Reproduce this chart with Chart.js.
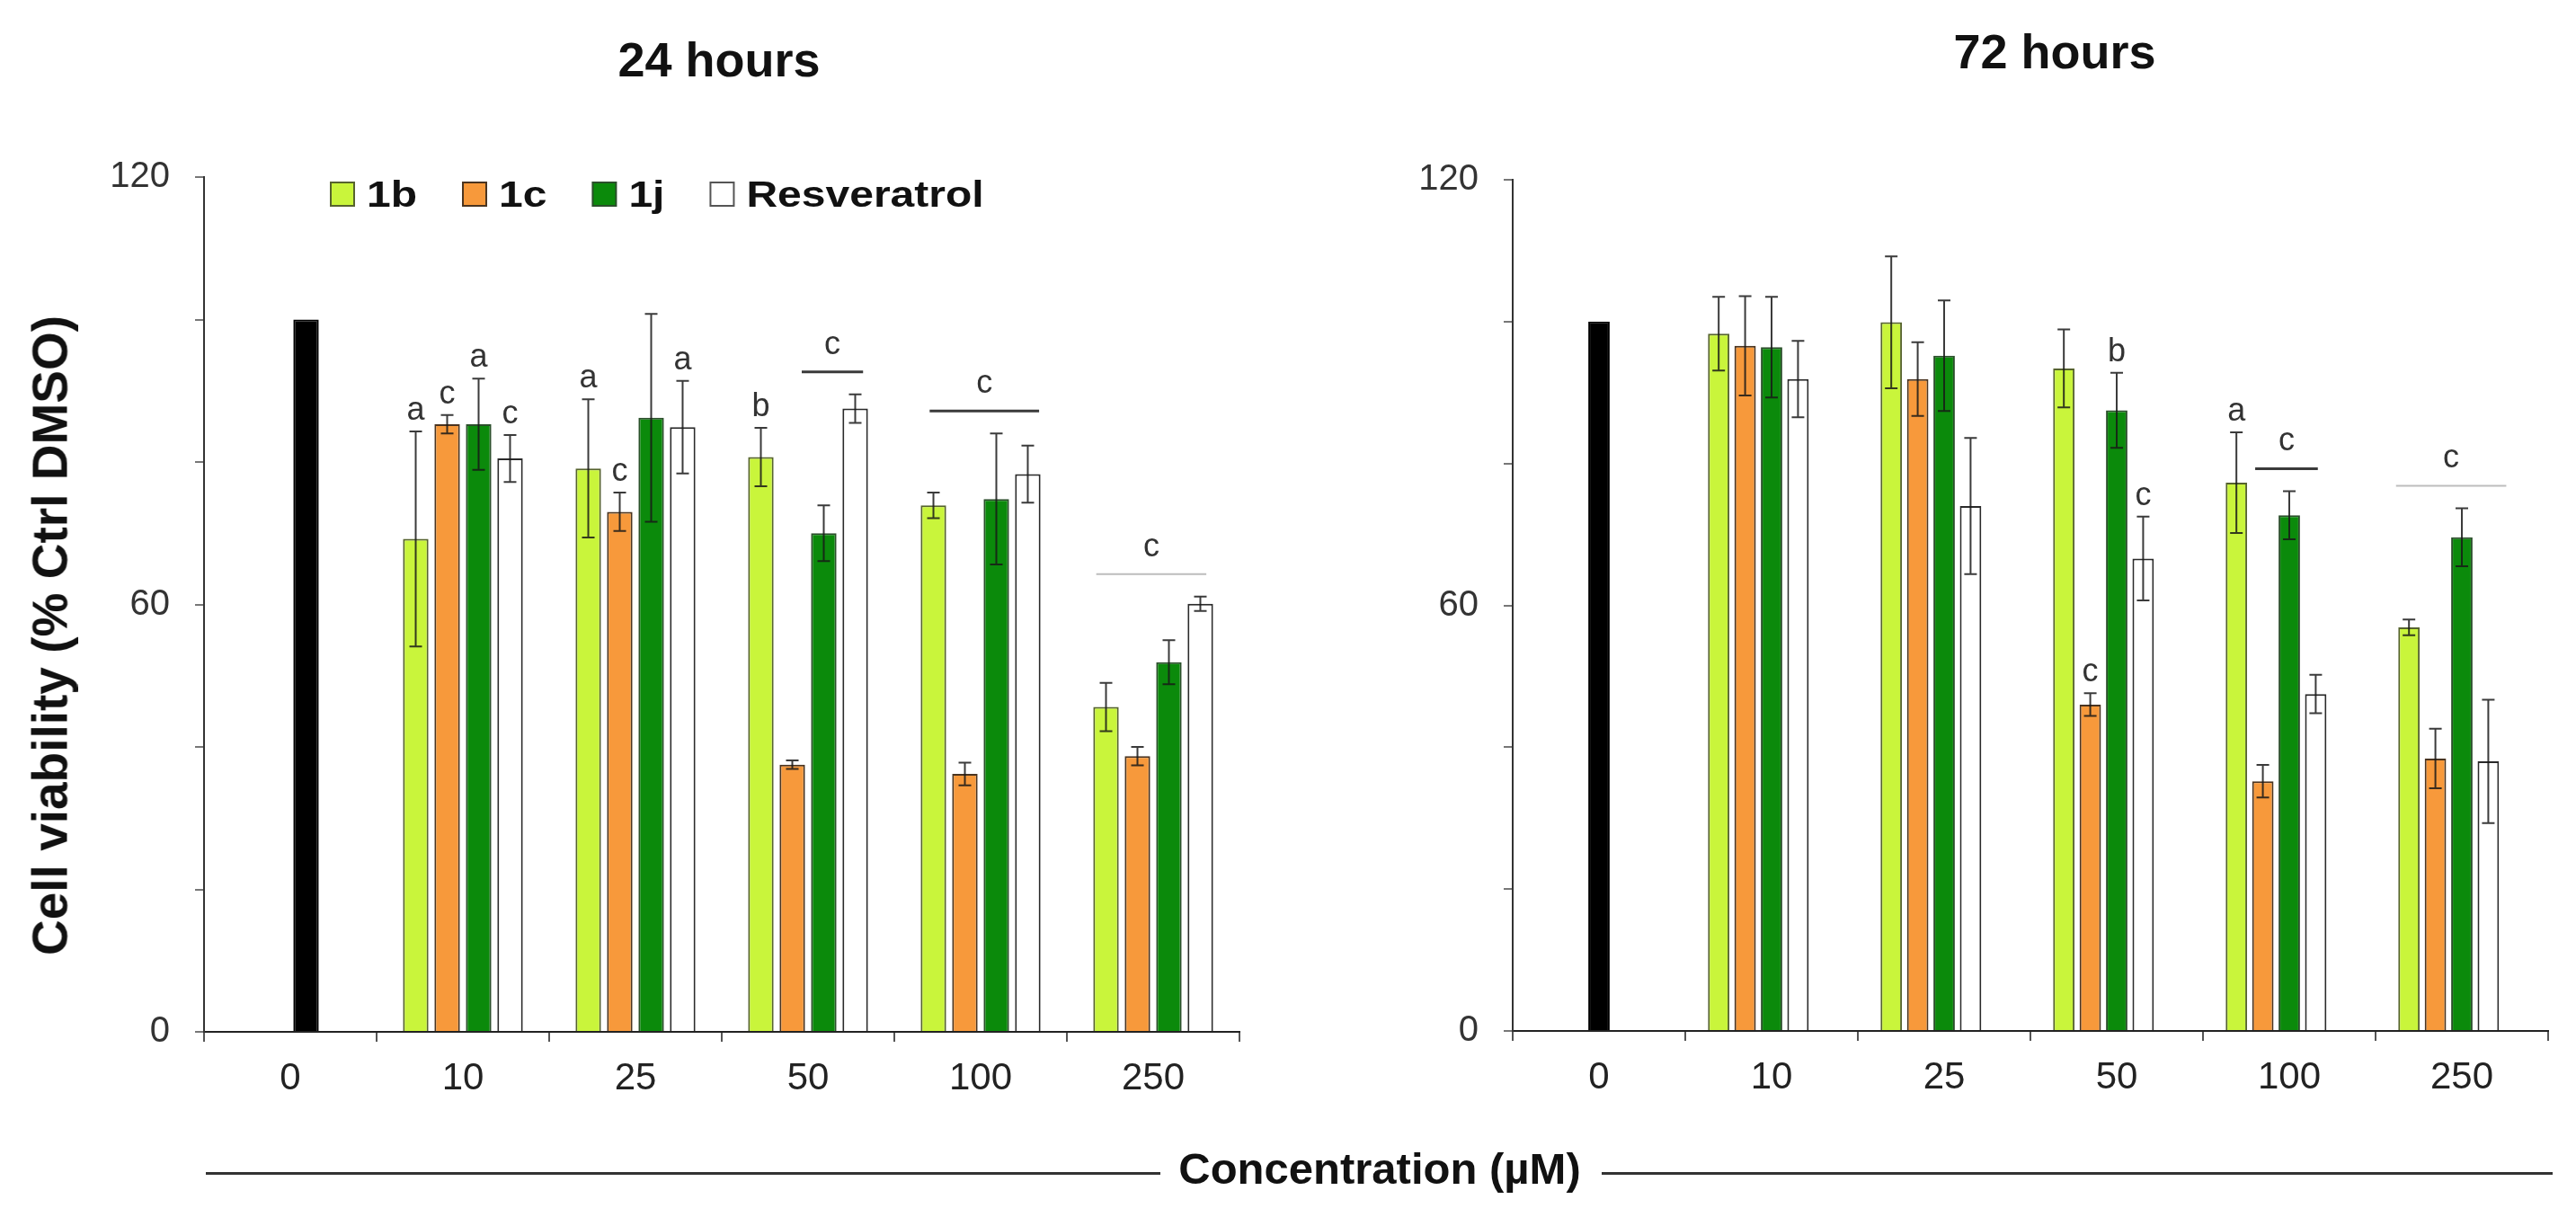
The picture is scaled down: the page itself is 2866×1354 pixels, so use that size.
<!DOCTYPE html>
<html>
<head>
<meta charset="utf-8">
<title>Cell viability</title>
<script src="https://cdn.jsdelivr.net/npm/chart.js@4.4.1/dist/chart.umd.min.js"></script>
<style>
  html, body { margin: 0; padding: 0; background: #fff; }
  body { width: 2866px; height: 1354px; position: relative; overflow: hidden; font-family: "Liberation Sans", Arial, sans-serif; }
  .panel { position: absolute; top: 0; height: 1354px; }
  .txt { position: absolute; white-space: nowrap; line-height: 1; color: #111; font-weight: bold; }
  .rule { position: absolute; height: 3px; background: #333; }
</style>
</head>
<body>
<div class="panel" style="left:0;width:1430px"><canvas id="chart24"></canvas></div>
<div class="panel" style="left:1430px;width:1436px"><canvas id="chart72"></canvas></div>

<div class="txt" style="left:800px;top:39px;font-size:54px;transform:translateX(-50%)">24 hours</div>
<div class="txt" style="left:2286px;top:30px;font-size:54px;transform:translateX(-50%)">72 hours</div>
<div class="txt" style="left:56px;top:707px;font-size:55px;transform:translate(-50%,-50%) rotate(-90deg)">Cell viability (% Ctrl DMSO)</div>
<div class="rule" style="left:229px;width:1062px;top:1304px"></div>
<div class="txt" style="left:1535px;top:1276px;font-size:49px;transform:translateX(-50%)">Concentration (µM)</div>
<div class="rule" style="left:1782px;width:1058px;top:1304px"></div>

<script>
// Données
const concentrations = ['0', '10', '25', '50', '100', '250'];
const seriesNames = ['1b', '1c', '1j', 'Resveratrol'];
const controlValue = 100; // Ctrl DMSO

// 24 heures (10, 25, 50, 100, 250 µM)
const h24_1b = [69.2, 79.1, 80.7, 73.9, 45.6];
const h24_1b_err = [15.1, 9.7, 4.1, 1.8, 3.4];
const h24_1c = [85.3, 73.0, 37.5, 36.2, 38.7];
const h24_1c_err = [1.3, 2.7, 0.6, 1.6, 1.3];
const h24_1j = [85.3, 86.2, 70.0, 74.8, 51.9];
const h24_1j_err = [6.4, 14.6, 3.9, 9.2, 3.1];
const h24_res = [80.5, 84.9, 87.5, 78.3, 60.1];
const h24_res_err = [3.3, 6.5, 2.0, 4.0, 1.0];

// 72 heures (10, 25, 50, 100, 250 µM)
const h72_1b = [98.3, 99.9, 93.4, 77.3, 56.9];
const h72_1b_err = [5.2, 9.3, 5.5, 7.1, 1.1];
const h72_1c = [96.6, 91.9, 46.0, 35.2, 38.4];
const h72_1c_err = [7.0, 5.2, 1.6, 2.3, 4.2];
const h72_1j = [96.4, 95.2, 87.5, 72.7, 69.6];
const h72_1j_err = [7.1, 7.8, 5.3, 3.4, 4.1];
const h72_res = [91.9, 74.0, 66.6, 47.5, 38.0];
const h72_res_err = [5.4, 9.6, 5.9, 2.7, 8.7];

// Lettres de significativité
const h24_1b_sig = ['a', 'a', 'b', '', ''];
const h24_1c_sig = ['c', 'c', '', '', ''];
const h24_1j_sig = ['a', '', '', '', ''];
const h24_res_sig = ['c', 'a', '', '', ''];
const h72_1b_sig = ['', '', '', 'a', ''];
const h72_1c_sig = ['', '', 'c', '', ''];
const h72_1j_sig = ['', '', 'b', '', ''];
const h72_res_sig = ['', '', 'c', '', ''];

// Traits communs (concentration, de la barre "from" à la barre "to")
const h24_groups = [
  { conc: '50', from: 1.3, to: 3.25, label: 'c', light: false },
  { conc: '100', from: -0.12, to: 3.36, label: 'c', light: false },
  { conc: '250', from: -0.31, to: 3.19, label: 'c', light: true }
];
const h72_groups = [
  { conc: '100', from: 0.71, to: 3.08, label: 'c', light: false },
  { conc: '250', from: -0.49, to: 3.68, label: 'c', light: true }
];

const seriesColors = ['#c9f53b', '#f7993b', '#0b8a0b', '#ffffff'];
const seriesBorders = ['#56632e', '#4a3420', '#2b4f2b', '#2a2a2a'];

Chart.defaults.font.family = '"Liberation Sans", Arial, sans-serif';

// Fonction pour construire les jeux de données (le témoin va dans la série 1j)
function buildDatasets(values, errors, sigs, withSpacer) {
  const datasets = values.map((vals, i) => ({
    label: seriesNames[i],
    data: [i === 2 ? controlValue : null, ...vals],
    errors: [0, ...errors[i]],
    sig: ['', ...sigs[i]],
    backgroundColor: c => (c.dataIndex === 0 ? '#000' : seriesColors[i]),
    borderColor: c => (c.dataIndex === 0 ? '#000' : seriesBorders[i]),
    borderWidth: 2
  }));
  if (withSpacer) {
    datasets.push({ label: '', data: concentrations.map(() => null) });
  }
  return datasets;
}

// Barres d'erreur
const errorBarsPlugin = {
  id: 'errorBars',
  afterDatasetsDraw(chart) {
    const ctx = chart.ctx;
    const y = chart.scales.y;
    chart.data.datasets.forEach((ds, i) => {
      if (!ds.errors) return;
      chart.getDatasetMeta(i).data.forEach((bar, j) => {
        const v = ds.data[j], e = ds.errors[j];
        if (v == null || !e) return;
        const top = y.getPixelForValue(v + e);
        const bot = y.getPixelForValue(v - e);
        ctx.save();
        ctx.strokeStyle = 'rgba(25,25,25,0.85)';
        ctx.lineWidth = 2;
        ctx.beginPath();
        ctx.moveTo(bar.x, top); ctx.lineTo(bar.x, bot);
        ctx.moveTo(bar.x - 7, top); ctx.lineTo(bar.x + 7, top);
        ctx.moveTo(bar.x - 7, bot); ctx.lineTo(bar.x + 7, bot);
        ctx.stroke();
        ctx.restore();
      });
    });
  }
};

// Lettres et traits de significativité
const significancePlugin = {
  id: 'significance',
  afterDatasetsDraw(chart, args, opts) {
    const ctx = chart.ctx;
    const y = chart.scales.y;
    ctx.save();
    ctx.font = '36px "Liberation Sans", Arial, sans-serif';
    ctx.fillStyle = '#333';
    ctx.textAlign = 'center';
    ctx.textBaseline = 'alphabetic';
    chart.data.datasets.forEach((ds, i) => {
      if (!ds.sig) return;
      chart.getDatasetMeta(i).data.forEach((bar, j) => {
        if (!ds.sig[j]) return;
        const top = y.getPixelForValue(ds.data[j] + ds.errors[j]);
        ctx.fillText(ds.sig[j], bar.x, top - 13);
      });
    });
    (opts.groups || []).forEach(g => {
      const j = concentrations.indexOf(g.conc);
      const x0 = chart.getDatasetMeta(0).data[j].x;
      const x3 = chart.getDatasetMeta(3).data[j].x;
      const pitch = (x3 - x0) / 3;
      let topPx = Infinity;
      for (let i = Math.max(0, Math.ceil(g.from)); i <= Math.min(3, Math.floor(g.to)); i++) {
        const ds = chart.data.datasets[i];
        topPx = Math.min(topPx, y.getPixelForValue(ds.data[j] + ds.errors[j]));
      }
      const ly = topPx - 25;
      ctx.beginPath();
      ctx.strokeStyle = g.light ? '#bdbdbd' : '#3a3a3a';
      ctx.lineWidth = g.light ? 2 : 3;
      ctx.moveTo(x0 + g.from * pitch, ly);
      ctx.lineTo(x0 + g.to * pitch, ly);
      ctx.stroke();
      ctx.fillText(g.label, x0 + (g.from + g.to) / 2 * pitch, ly - 20);
    });
    ctx.restore();
  }
};

// Légende dessinée dans la zone du graphique
const insideLegendPlugin = {
  id: 'insideLegend',
  afterDraw(chart, args, opts) {
    if (!opts.show) return;
    const ctx = chart.ctx;
    const area = chart.chartArea;
    let x = area.left + 141;
    const cy = area.top + 19;
    ctx.save();
    ctx.font = 'bold 40px "Liberation Sans", Arial, sans-serif';
    ctx.textBaseline = 'alphabetic';
    seriesNames.forEach((name, i) => {
      ctx.fillStyle = seriesColors[i];
      ctx.fillRect(x, cy - 13, 26, 26);
      ctx.strokeStyle = i === 3 ? '#555' : seriesBorders[i];
      ctx.lineWidth = 2;
      ctx.strokeRect(x, cy - 13, 26, 26);
      x += 40;
      const w = ctx.measureText(name).width * 1.2;
      ctx.save();
      ctx.translate(x, cy + 14);
      ctx.scale(1.2, 1);
      ctx.fillStyle = '#111';
      ctx.fillText(name, 0, 0);
      ctx.restore();
      x += w + 51;
    });
    ctx.restore();
  }
};

// Fonction pour créer un panneau
function makeChart(canvasId, datasets, groups, layout, showLegend, catPct) {
  return new Chart(document.getElementById(canvasId), {
    type: 'bar',
    data: { labels: concentrations, datasets: datasets },
    plugins: [errorBarsPlugin, significancePlugin, insideLegendPlugin],
    options: {
      responsive: true,
      maintainAspectRatio: false,
      animation: false,
      layout: { padding: layout.padding },
      datasets: { bar: { categoryPercentage: catPct, barPercentage: 0.81 } },
      plugins: {
        legend: { display: false },
        tooltip: { enabled: false },
        significance: { groups: groups },
        insideLegend: { show: showLegend }
      },
      scales: {
        x: {
          afterFit: s => { s.height = 100; },
          grid: { drawOnChartArea: false, tickLength: 11, color: '#555', lineWidth: 2, offset: true },
          border: { display: true, color: '#222', width: 2 },
          ticks: { color: '#222', font: { size: 42 }, padding: 16, maxRotation: 0, autoSkip: false }
        },
        y: {
          min: 0,
          max: 120,
          afterFit: s => { s.width = layout.yWidth; },
          grid: { drawOnChartArea: false, tickLength: 10, color: '#777', lineWidth: 2 },
          border: { display: true, color: '#333', width: 2 },
          ticks: {
            stepSize: 20,
            color: '#333',
            font: { size: 40 },
            padding: 28,
            callback: v => (v % 60 === 0 ? String(v) : '')
          }
        }
      }
    }
  });
}

makeChart('chart24',
  buildDatasets([h24_1b, h24_1c, h24_1j, h24_res],
                [h24_1b_err, h24_1c_err, h24_1j_err, h24_res_err],
                [h24_1b_sig, h24_1c_sig, h24_1j_sig, h24_res_sig], false),
  h24_groups,
  { padding: { left: 0, top: 197, right: 51, bottom: 106 }, yWidth: 227 },
  true, 0.729);

makeChart('chart72',
  buildDatasets([h72_1b, h72_1c, h72_1j, h72_res],
                [h72_1b_err, h72_1c_err, h72_1j_err, h72_res_err],
                [h72_1b_sig, h72_1c_sig, h72_1j_sig, h72_res_sig], true),
  h72_groups,
  { padding: { left: 0, top: 200, right: 31, bottom: 107 }, yWidth: 253 },
  false, 0.766);
</script>
</body>
</html>
